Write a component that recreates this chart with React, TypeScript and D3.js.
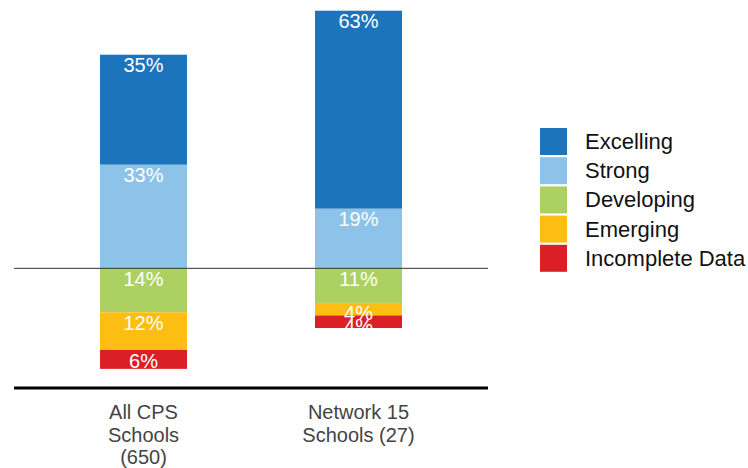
import * as d3 from "d3";

const categories = ["All CPS\nSchools\n(650)", "Network 15\nSchools (27)"];
const levels = ["Excelling", "Strong", "Developing", "Emerging", "Incomplete Data"];
const colors = ["#1c75bc", "#8dc3e9", "#acd162", "#fdbe14", "#da1f27"];
// positive levels stack up from the zero line, the rest stack down
const above = ["Strong", "Excelling"];
const below = ["Developing", "Emerging", "Incomplete Data"];
const excelling = [35, 63];
const strong = [33, 19];
const developing = [14, 11];
const emerging = [12, 4];
const incomplete = [6, 4];

const W = 748;
const H = 468;
const BAR_W = 87;
const FONT = "'Liberation Sans', Arial, sans-serif";

export default function App() {
  const values: Record<string, number[]> = {
    Excelling: excelling,
    Strong: strong,
    Developing: developing,
    Emerging: emerging,
    "Incomplete Data": incomplete,
  };
  const color = d3.scaleOrdinal<string, string>().domain(levels).range(colors);

  const x = d3.scalePoint<string>().domain(categories).range([36, 466]).padding(0.5);
  const y = d3.scaleLinear().domain([-40, 80]).range([394, 17]);

  const segs: { cat: number; key: string; top: number; bottom: number; v: number }[] = [];
  categories.forEach((_, i) => {
    let acc = 0;
    above.forEach((k) => {
      const v = values[k][i];
      segs.push({ cat: i, key: k, top: y(acc + v), bottom: y(acc), v });
      acc += v;
    });
    acc = 0;
    below.forEach((k) => {
      const v = values[k][i];
      segs.push({ cat: i, key: k, top: y(acc), bottom: y(acc - v), v });
      acc -= v;
    });
  });

  const barExtent = categories.map((_, i) => {
    const s = segs.filter((d) => d.cat === i);
    return [d3.min(s, (d) => d.top)!, d3.max(s, (d) => d.bottom)!];
  });

  return (
    <svg
      width={W}
      height={H}
      style={{ position: "absolute", left: 0, top: 0, background: "#fff" }}
      fontFamily={FONT}
    >
      <defs>
        {categories.map((c, i) => (
          <clipPath id={`clip${i}`} key={i}>
            <rect
              x={x(c)! - BAR_W / 2}
              y={barExtent[i][0]}
              width={BAR_W}
              height={barExtent[i][1] - barExtent[i][0]}
            />
          </clipPath>
        ))}
      </defs>
      {segs.map((d, j) => (
        <rect
          key={j}
          x={x(categories[d.cat])! - BAR_W / 2}
          y={d.top}
          width={BAR_W}
          height={d.bottom - d.top}
          fill={color(d.key)}
        />
      ))}
      {segs.map((d, j) => (
        <text
          key={"t" + j}
          x={x(categories[d.cat])!}
          y={d.top + 17.5}
          textAnchor="middle"
          fontSize={20}
          fill="#fff"
          clipPath={`url(#clip${d.cat})`}
        >
          {d.v}%
        </text>
      ))}
      <line x1={14} x2={488} y1={y(0)} y2={y(0)} stroke="#333" strokeWidth={1} />
      <line x1={14} x2={488} y1={388} y2={388} stroke="#000" strokeWidth={3} />
      {categories.map((c) => (
        <text key={c} textAnchor="middle" fontSize={20} fill="#444">
          {c.split("\n").map((l, k) => (
            <tspan key={k} x={x(c)!} y={419 + k * 22.5}>
              {l}
            </tspan>
          ))}
        </text>
      ))}
      {levels.map((k, i) => (
        <g key={k} transform={`translate(540,${128 + i * 29.2})`}>
          <rect width={27} height={27} fill={color(k)} />
          <text x={45} y={21} fontSize={22} fill="#111">
            {k}
          </text>
        </g>
      ))}
    </svg>
  );
}
